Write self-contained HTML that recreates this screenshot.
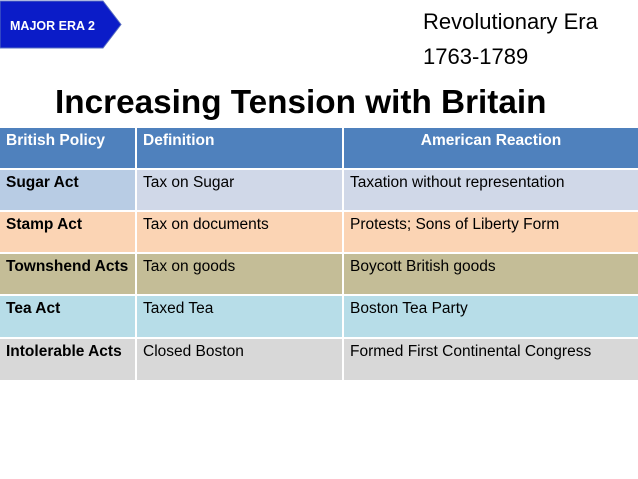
<!DOCTYPE html>
<html><head><meta charset="utf-8">
<style>
body{margin:0;width:638px;height:479px;background:#fff;position:relative;overflow:hidden;font-family:"Liberation Sans",sans-serif;}
.abs{position:absolute;}
.cell{position:absolute;box-sizing:border-box;padding:4px 0 0 6px;font-size:15.5px;color:#000;white-space:nowrap;}
.b{font-weight:bold;}
</style></head><body>
<svg class="abs" style="left:0;top:0" width="130" height="50">
<polygon points="0,1 103,1 121,24.5 103,48 0,48" fill="#0b1cc8" stroke="#5a6fc0" stroke-width="1"/>
<text x="10" y="30" font-family="Liberation Sans" font-weight="bold" font-size="12.5" fill="#fff">MAJOR ERA 2</text>
</svg>
<div class="abs" style="left:423px;top:4px;font-size:22px;line-height:35px;color:#000">Revolutionary Era<br>1763-1789</div>
<div class="abs" style="left:55px;top:84px;font-size:33.3px;font-weight:bold;color:#000;white-space:nowrap">Increasing Tension with Britain</div>
<div id="tbl"></div>
<script>
const cols=[0,137,344,638];
const rowsY=[128,170,212,254,296,339,382];
const colors=[["#4f81bd","#4f81bd","#4f81bd"],["#b8cce4","#d0d8e8","#d0d8e8"],["#fbd4b4","#fbd4b4","#fbd4b4"],["#c4bd97","#c4bd97","#c4bd97"],["#b7dde8","#b7dde8","#b7dde8"],["#d8d8d8","#d8d8d8","#d8d8d8"]];
const data=[["British Policy","Definition","American Reaction"],["Sugar Act","Tax on Sugar","Taxation without representation"],["Stamp Act","Tax on documents","Protests; Sons of Liberty Form"],["Townshend Acts","Tax on goods","Boycott British goods"],["Tea Act","Taxed Tea","Boston Tea Party"],["Intolerable Acts","Closed Boston","Formed First Continental Congress"]];
const names=["header","sugar-act","stamp-act","townshend-acts","tea-act","intolerable-acts"];
const tbl=document.getElementById('tbl');
for(let r=0;r<data.length;r++){for(let c=0;c<3;c++){
const d=document.createElement('div');
d.className='cell'+((r==0||c==0)?' b':'');


d.style.left=cols[c]+'px';d.style.top=rowsY[r]+'px';
d.style.width=(cols[c+1]-cols[c]-(c<2?2:0))+'px';
d.style.height=(rowsY[r+1]-rowsY[r]-2)+'px';
d.style.background=colors[r][c];
if(r==0){d.style.color='#fff';if(c==2){d.style.paddingLeft='0';d.style.textAlign='center';}}
d.textContent=data[r][c];
tbl.appendChild(d);}}
</script>
</body></html>
